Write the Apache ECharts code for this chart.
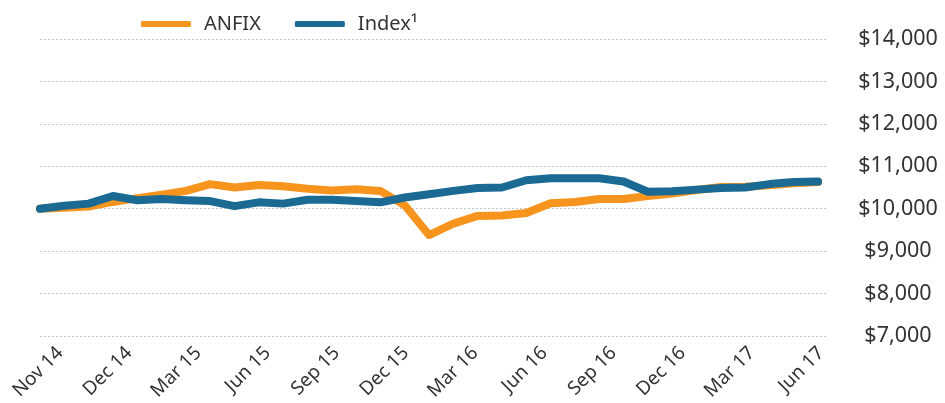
<!DOCTYPE html>
<html>
<head>
<meta charset="utf-8">
<script src="https://cdn.jsdelivr.net/npm/echarts@6/dist/echarts.min.js"></script>
<style>
html,body{margin:0;padding:0;background:#fff;}
#chart{width:945px;height:403px;}
</style>
</head>
<body>
<div id="chart"></div>
<script>
// Monthly observation points (33 points, Oct 14 .. Jun 17)
const pointIndex = [0,1,2,3,4,5,6,7,8,9,10,11,12,13,14,15,16,17,18,19,20,21,22,23,24,25,26,27,28,29,30,31,32];
const anfix = [10000,10020,10050,10160,10250,10330,10420,10580,10500,10560,10530,10470,10430,10460,10420,10080,9380,9650,9830,9840,9900,10130,10160,10230,10230,10300,10360,10440,10510,10520,10550,10600,10630];
const indexVals = [10000,10070,10120,10300,10200,10230,10200,10180,10060,10150,10120,10210,10210,10180,10150,10265,10340,10420,10490,10500,10670,10720,10720,10720,10640,10400,10410,10450,10490,10500,10580,10630,10640];
const tickLabels = ['Nov 14','Dec 14','Mar 15','Jun 15','Sep 15','Dec 15','Mar 16','Jun 16','Sep 16','Dec 16','Mar 17','Jun 17'];
const yTicks = {min:7000, max:14000, step:1000};

const FONT = 'Noto Sans';
const chart = echarts.init(document.getElementById('chart'), null, {renderer:'canvas'});
chart.setOption({
  animation:false,
  backgroundColor:'#ffffff',
  legend:{
    left:136, top:9,
    itemWidth:50, itemHeight:6, itemGap:34,
    icon:'roundRect',
    textStyle:{fontFamily:FONT, fontSize:20, color:'#333', padding:[0,0,0,8]},
    data:['ANFIX','Index\u00B9']
  },
  grid:[
    {left:40, right:117, top:39, bottom:67},
    {left:60, right:124, top:39, bottom:67}
  ],
  xAxis:[
    {gridIndex:0, type:'value', min:0, max:32.41, show:false},
    {gridIndex:1, type:'category', data:tickLabels, boundaryGap:false,
     axisLine:{show:false}, axisTick:{show:false}, splitLine:{show:false},
     axisLabel:{interval:0, rotate:45, margin:17, fontFamily:FONT, fontSize:19, color:'#333'}}
  ],
  yAxis:[
    {gridIndex:0, type:'value', position:'right', min:yTicks.min, max:yTicks.max, interval:yTicks.step,
     axisLine:{show:false}, axisTick:{show:false},
     splitLine:{show:true, lineStyle:{color:'#c4c4c4', width:1, type:[2,2]}},
     axisLabel:{align:'center', margin:70, fontFamily:FONT, fontSize:21.5, color:'#333',
       formatter:v=>'$'+v.toLocaleString('en-US')}},
    {gridIndex:1, type:'value', show:false, min:0, max:1}
  ],
  series:[
    {name:'ANFIX', type:'line', xAxisIndex:0, yAxisIndex:0, symbol:'none', smooth:false,
     data:pointIndex.map((k,i)=>[k, anfix[i]]),
     itemStyle:{color:'#F7941E'},
     lineStyle:{color:'#F7941E', width:8, cap:'round', join:'round'}},
    {name:'Index\u00B9', type:'line', xAxisIndex:0, yAxisIndex:0, symbol:'none', smooth:false,
     data:pointIndex.map((k,i)=>[k, indexVals[i]]),
     itemStyle:{color:'#1A6A93'},
     lineStyle:{color:'#1A6A93', width:8, cap:'round', join:'round'}}
  ]
});
</script>
</body>
</html>
